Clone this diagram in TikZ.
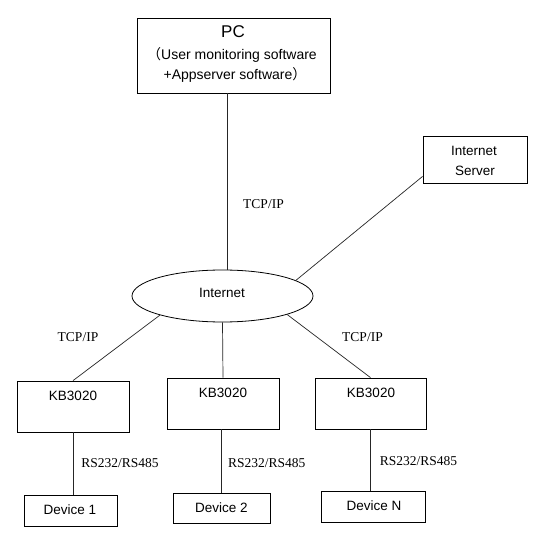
\documentclass[tikz,border=0pt]{standalone}
\usepackage{fontspec}
\setmainfont{Liberation Sans}
\newfontfamily\serifrm{Liberation Serif}
\newfontfamily\cjk{Noto Sans CJK SC}
\usetikzlibrary{shapes.geometric}
\begin{document}
\begin{tikzpicture}[x=1pt,y=-1pt,
  box/.style={draw=black, line width=0.8pt, inner sep=0pt, rectangle},
  cloud/.style={draw=black, line width=0.8pt, inner sep=0pt, ellipse},
  conn/.style={draw=black!85, line width=0.7pt},
  txt/.style={inner sep=0pt, text height=0.72em, text depth=0pt, font=\fontsize{13.5}{16}\selectfont},
  pctxt/.style={inner sep=0pt, text height=0.72em, text depth=0pt, font=\fontsize{14}{16}\selectfont},
  lbl/.style={inner sep=0pt, text height=0.66em, text depth=0pt, font=\serifrm\fontsize{13.5}{16}\selectfont}]
\useasboundingbox[fill=white] (0,0) rectangle (541,540);

% boxes
\node[box, minimum width=193pt, minimum height=75pt] (pc) at (233.5,55.5) {};
\node[box, minimum width=104pt, minimum height=47pt] (server) at (475,159.5) {};
\node[cloud, minimum width=181pt, minimum height=52pt] (inet) at (222.5,296) {};
\node[box, minimum width=112pt, minimum height=51pt] (kb1) at (73,406.5) {};
\node[box, minimum width=112pt, minimum height=51pt] (kb2) at (223,403.5) {};
\node[box, minimum width=111pt, minimum height=51pt] (kb3) at (370.5,403.5) {};
\node[box, minimum width=93pt, minimum height=31pt] (dev1) at (70.5,510.5) {};
\node[box, minimum width=97pt, minimum height=30pt] (dev2) at (221.5,508) {};
\node[box, minimum width=104pt, minimum height=31pt] (devn) at (373,506.5) {};

% texts in boxes
\node[pctxt, font=\fontsize{17}{20}\selectfont] (pct1) at (233,34) {PC};
\node[pctxt] (pct2) at (232,56) {{\cjk （}User monitoring software};
\node[pctxt] (pct3) at (235,76) {+Appserver software{\cjk ）}};
\node[txt] (st1) at (474,152) {Internet};
\node[txt] (st2) at (475,172) {Server};
\node[txt] (it) at (222,294) {Internet};
\node[txt] (kt1) at (73,397) {KB3020};
\node[txt] (kt2) at (223,394) {KB3020};
\node[txt] (kt3) at (371,394) {KB3020};
\node[txt] (dt1) at (70,511) {Device 1};
\node[txt] (dt2) at (221.5,509) {Device 2};
\node[txt] (dtn) at (374,507) {Device N};

% connectors
\draw[conn] ([xshift=-6.5pt]pc.south) -- ([xshift=4.5pt]inet.north);
\draw[conn] ([yshift=7pt]server.south west) -- (inet.12);
\draw[conn] (inet.197) -- (kb1.north);
\draw[conn] (inet.south) -- (kb2.north);
\draw[conn] (inet.-16) -- (kb3.north);
\draw[conn] (kb1.south) -- (kb1.south |- dev1.north);
\draw[conn] (dev2.north |- kb2.south) -- (dev2.north);
\draw[conn] (kb3.south) -- (kb3.south |- devn.north);

% connector labels
\node[lbl] (l0) at (263.5,205) {TCP/IP};
\node[lbl] (l1) at (78,338) {TCP/IP};
\node[lbl] (l2) at (362.5,338) {TCP/IP};
\node[lbl] (r1) at (120,464) {RS232/RS485};
\node[lbl] (r2) at (266.7,464) {RS232/RS485};
\node[lbl] (r3) at (418.5,462) {RS232/RS485};
\end{tikzpicture}
\end{document}
